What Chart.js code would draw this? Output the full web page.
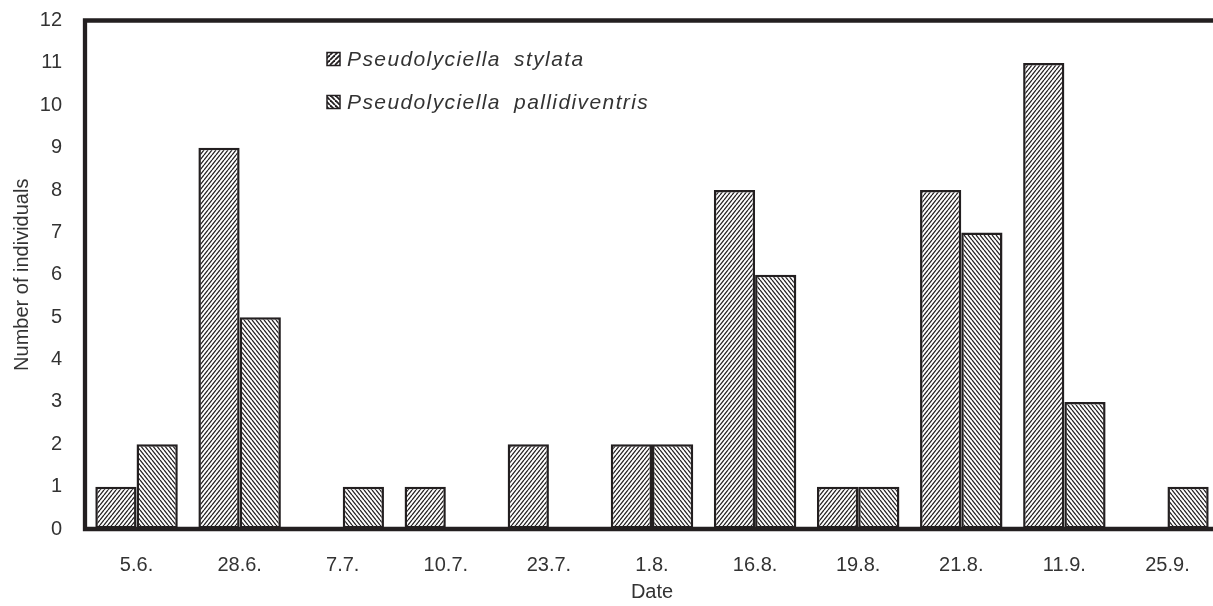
<!DOCTYPE html>
<html>
<head>
<meta charset="utf-8">
<script src="https://cdn.jsdelivr.net/npm/chart.js@4.4.1/dist/chart.umd.min.js"></script>
<style>
	html, body { margin: 0; padding: 0; background: #fff; overflow: hidden; }
	/* plot runs a few pixels past the right edge, as in the original */
	#wrap { width: 1219px; height: 606px; }
</style>
</head>
<body>
<div id="wrap"><canvas id="chart"></canvas></div>
<script>
const dates = ['5.6.', '28.6.', '7.7.', '10.7.', '23.7.', '1.8.', '16.8.', '19.8.', '21.8.', '11.9.', '25.9.'];
const stylata = [1, 9, 0, 1, 2, 2, 8, 1, 8, 11, 0];
const pallidiventris = [2, 5, 1, 0, 0, 2, 6, 1, 7, 3, 1];
const seriesNames = ['Pseudolyciella stylata', 'Pseudolyciella pallidiventris'];
const yMin = 0, yMax = 12, yStep = 1;

const INK = '#231f20';
const TEXT = '#333333';
const FONT = "'Liberation Sans', Arial, sans-serif";

// diagonal hatch, dir 1 = "/", -1 = "\"
function hatch(dir, w, h, lw){
	const c = document.createElement('canvas');
	c.width = w; c.height = h;
	const g = c.getContext('2d');
	g.fillStyle = '#fff';
	g.fillRect(0, 0, w, h);
	g.strokeStyle = INK;
	g.lineWidth = lw;
	for (let k = -1; k <= 1; k++) {
		const x0 = k * w;
		g.beginPath();
		if (dir > 0) { g.moveTo(x0, h); g.lineTo(x0 + w, 0); }
		else { g.moveTo(x0, 0); g.lineTo(x0 + w, h); }
		g.stroke();
	}
	return g.createPattern(c, 'repeat');
}

const ctx = document.getElementById('chart').getContext('2d');
const fills = [hatch(1, 4, 5, 1.25), hatch(-1, 4, 5, 1.25)];
const legendFills = [hatch(1, 5, 5, 1.8), hatch(-1, 5, 5, 1.8)];

// frame: left, top and bottom lines (right side runs off the picture)
const framePlugin = {
	id: 'frame',
	afterDatasetsDraw(chart){
		const a = chart.chartArea, c = chart.ctx;
		c.save();
		c.strokeStyle = INK;
		c.lineWidth = 4.3;
		c.lineJoin = 'miter';
		c.beginPath();
		c.moveTo(a.right + 10, a.top);
		c.lineTo(a.left, a.top);
		c.lineTo(a.left, a.bottom);
		c.lineTo(a.right + 10, a.bottom);
		c.stroke();
		c.restore();
	}
};

const legendPlugin = {
	id: 'innerLegend',
	afterDraw(chart){
		const c = chart.ctx;
		const rows = [59, 102];
		c.save();
		chart.data.datasets.forEach((ds, i) => {
			const y = rows[i];
			c.fillStyle = legendFills[i];
			c.fillRect(327, y - 6.5, 13, 13);
			c.strokeStyle = INK;
			c.lineWidth = 1.5;
			c.strokeRect(327, y - 6.5, 13, 13);
			c.fillStyle = TEXT;
			c.font = 'italic 21px ' + FONT;
			c.letterSpacing = '1.4px';
			c.wordSpacing = '6px';
			c.textAlign = 'left';
			c.textBaseline = 'middle';
			c.fillText(ds.label, 347, y + 1);
		});
		c.restore();
	}
};

new Chart(ctx, {
	type: 'bar',
	data: {
		labels: dates,
		datasets: [
			{ label: seriesNames[0], data: stylata, backgroundColor: fills[0], borderColor: INK, borderWidth: 2.5 },
			{ label: seriesNames[1], data: pallidiventris, backgroundColor: fills[1], borderColor: INK, borderWidth: 2.5 }
		]
	},
	options: {
		responsive: true,
		maintainAspectRatio: false,
		animation: false,
		datasets: { bar: { categoryPercentage: 0.8, barPercentage: 1.0, borderSkipped: false } },
		layout: { padding: { top: 20.5, right: 0, bottom: 0, left: 0 } },
		scales: {
			x: {
				grid: { display: false, drawTicks: false },
				border: { display: false },
				ticks: { color: TEXT, font: { family: FONT, size: 20 }, padding: 24, maxRotation: 0 },
				title: { display: true, text: 'Date', color: TEXT, font: { family: FONT, size: 20 }, padding: { top: 0, bottom: 2 } },
				afterFit(scale){ scale.height = 77; }
			},
			y: {
				min: yMin,
				max: yMax,
				// invisible tick marks keep the labels away from the axis
				grid: { display: true, drawOnChartArea: false, drawTicks: true, tickLength: 23, color: 'rgba(0,0,0,0)' },
				border: { display: false },
				ticks: { stepSize: yStep, color: TEXT, font: { family: FONT, size: 20 }, padding: 0 },
				title: { display: true, text: 'Number of individuals', color: TEXT, font: { family: FONT, size: 20 }, padding: { top: 10, bottom: 0 } },
				afterFit(scale){ scale.width = 85; }
			}
		},
		plugins: {
			legend: { display: false },
			tooltip: { enabled: false }
		}
	},
	plugins: [framePlugin, legendPlugin]
});
</script>
</body>
</html>
